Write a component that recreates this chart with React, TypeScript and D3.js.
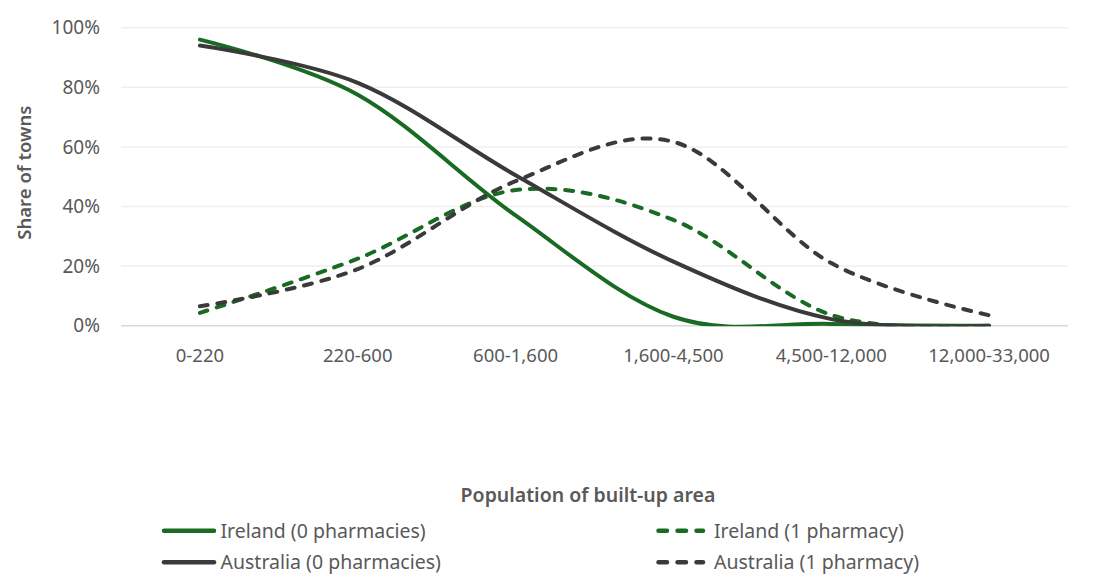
import { useEffect, useRef } from "react";
import * as d3 from "d3";

const categories = ["0-220", "220-600", "600-1,600", "1,600-4,500", "4,500-12,000", "12,000-33,000"];
const yTicks = [0, 20, 40, 60, 80, 100];

const irelandZero = [96, 77.5, 37, 3, 0.6, 0];
const irelandOne = [4.3, 22.5, 45.5, 35.5, 3.6, 0];
const australiaZero = [94, 81.5, 50.5, 21.5, 2.2, 0];
const australiaOne = [6.5, 19, 48.5, 61.7, 21, 3.5];

const seriesNames = [
    "Ireland (0 pharmacies)",
    "Ireland (1 pharmacy)",
    "Australia (0 pharmacies)",
    "Australia (1 pharmacy)",
];

const GREEN = "#196b24";
const GREY = "#3a3a3a";
const TEXT = "#595959";
const FONT = "'Noto Sans', 'Open Sans', sans-serif";

export default function App() {
    const ref = useRef<SVGSVGElement>(null);

    useEffect(() => {
        const svg = d3.select(ref.current);
        svg.selectAll("*").remove();

        const plot_left = 121;
        const plot_right = 1068;
        const plot_top = 27.7;
        const plot_bottom = 325.7;

        const x = d3.scaleBand<string>()
            .domain(categories)
            .range([plot_left, plot_right]);
        const cx = (c: string) => (x(c) ?? 0) + x.bandwidth() / 2;

        const y = d3.scaleLinear()
            .domain([0, 100])
            .range([plot_bottom, plot_top]);

        // excel clips the smoothed lines at the axis minimum
        svg.append("defs").append("clipPath")
            .attr("id", "plot-clip")
            .append("rect")
                .attr("x", plot_left)
                .attr("y", plot_top - 20)
                .attr("width", plot_right - plot_left)
                .attr("height", plot_bottom - plot_top + 20.5);

        // gridlines
        svg.append("g")
            .selectAll("line")
            .data(yTicks)
            .enter().append("line")
                .attr("x1", plot_left)
                .attr("x2", plot_right)
                .attr("y1", d => y(d))
                .attr("y2", d => y(d))
                .attr("stroke", d => d === 0 ? "#d9d9d9" : "#efefef")
                .attr("stroke-width", 1.5);

        // y tick labels
        svg.append("g")
            .selectAll("text")
            .data(yTicks)
            .enter().append("text")
                .attr("x", 100)
                .attr("y", d => y(d))
                .attr("dy", "0.35em")
                .attr("text-anchor", "end")
                .attr("fill", TEXT)
                .style("font-family", FONT)
                .style("font-size", "19px")
                .text(d => d + "%");

        // x tick labels
        svg.append("g")
            .selectAll("text")
            .data(categories)
            .enter().append("text")
                .attr("x", d => cx(d))
                .attr("y", 356)
                .attr("dy", "0.35em")
                .attr("text-anchor", "middle")
                .attr("fill", TEXT)
                .style("font-family", FONT)
                .style("font-size", "18.5px")
                .text(d => d);

        // axis titles
        svg.append("text")
            .attr("transform", "translate(25," + ((plot_top + plot_bottom) / 2 - 4) + ") rotate(-90)")
            .attr("dy", "0.35em")
            .attr("text-anchor", "middle")
            .attr("fill", TEXT)
            .style("font-family", FONT)
            .style("font-size", "18.5px")
            .style("font-weight", 600)
            .text("Share of towns");

        svg.append("text")
            .attr("x", 588)
            .attr("y", 495)
            .attr("dy", "0.35em")
            .attr("text-anchor", "middle")
            .attr("fill", TEXT)
            .style("font-family", FONT)
            .style("font-size", "19.5px")
            .style("font-weight", 600)
            .text("Population of built-up area");

        const series = [
            { name: seriesNames[0], values: irelandZero, color: GREEN, dashed: false },
            { name: seriesNames[1], values: irelandOne, color: GREEN, dashed: true },
            { name: seriesNames[2], values: australiaZero, color: GREY, dashed: false },
            { name: seriesNames[3], values: australiaOne, color: GREY, dashed: true },
        ];

        const line = d3.line<number>()
            .x((_, i) => cx(categories[i]))
            .y(d => y(d))
            .curve(d3.curveCardinal.tension(0));

        svg.append("g")
            .attr("clip-path", "url(#plot-clip)")
            .selectAll("path")
            .data(series)
            .enter().append("path")
                .attr("d", d => line(d.values))
                .attr("fill", "none")
                .attr("stroke", d => d.color)
                .attr("stroke-width", 4)
                .attr("stroke-linecap", "round")
                .attr("stroke-dasharray", d => d.dashed ? "8,9.7" : null);

        // legend
        const legendPos = [
            { lx: 162, ly: 530.7 },
            { lx: 656, ly: 530.7 },
            { lx: 162, ly: 562.3 },
            { lx: 656, ly: 562.3 },
        ];

        const legend = svg.append("g")
            .selectAll("g")
            .data(series)
            .enter().append("g")
                .attr("transform", (_, i) => "translate(" + legendPos[i].lx + "," + legendPos[i].ly + ")");

        legend.append("line")
            .attr("x1", d => d.dashed ? 2.5 : 2)
            .attr("x2", d => d.dashed ? 47 : 52)
            .attr("y1", 0)
            .attr("y2", 0)
            .attr("stroke", d => d.color)
            .attr("stroke-width", 4.5)
            .attr("stroke-linecap", "round")
            .attr("stroke-dasharray", d => d.dashed ? "8.5,10.5" : null);

        legend.append("text")
            .attr("x", d => d.dashed ? 58 : 58.5)
            .attr("y", 0)
            .attr("dy", "0.35em")
            .attr("fill", TEXT)
            .style("font-family", FONT)
            .style("font-size", "19.5px")
            .text(d => d.name);
    }, []);

    return (
        <svg ref={ref} width={1098} height={578}
            style={{ position: "absolute", left: 0, top: 0, background: "white" }} />
    );
}
